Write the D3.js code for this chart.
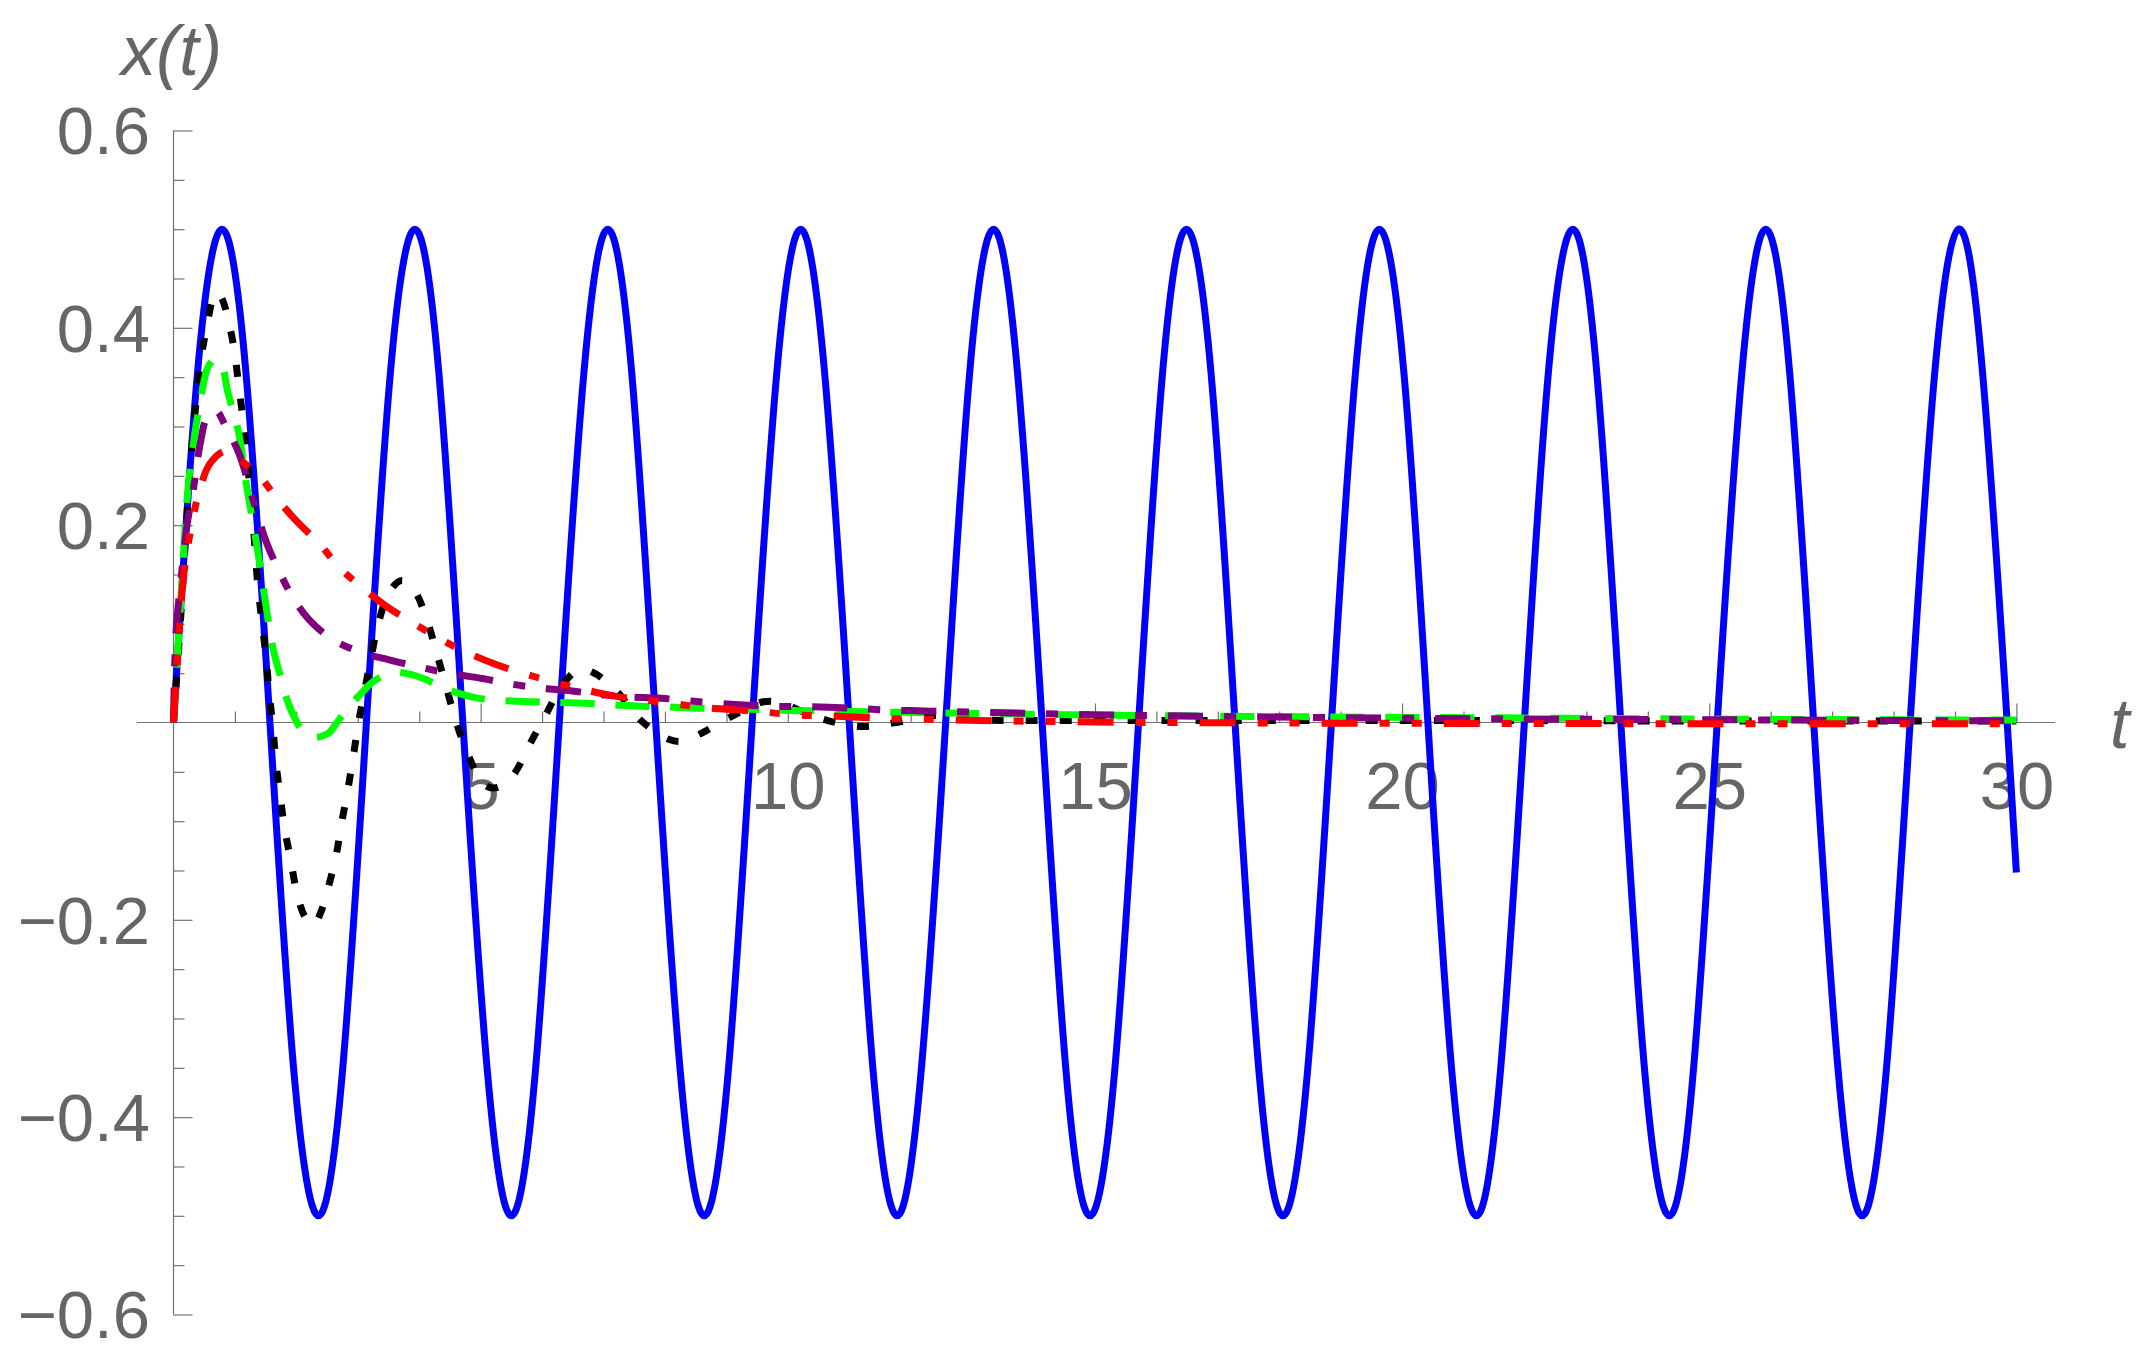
<html>
  <head>
    <script src="https://d3js.org/d3.v7.min.js"></script>
    <style>
      body { margin: 0; background: #fff; }
      .tick-label { font-family: "Liberation Sans", Arial, sans-serif; fill: #666; }
      .axis-title { font-family: "Liberation Sans", Arial, sans-serif; font-style: italic; fill: #666; }
    </style>
  </head>
  <body>
    <svg id="chart" width="2148" height="1364"></svg>
    <script>
      // tick labels
      const xTicks = [5, 10, 15, 20, 25, 30];
      const yTicks = [-0.6, -0.4, -0.2, 0.2, 0.4, 0.6];

      // blue: undamped oscillation, read at eighth-period steps
      const blueT = [0, 0.39, 0.79, 1.18, 1.57, 1.96, 2.36, 2.75, 3.14, 3.53, 3.93, 4.32, 4.71, 5.11, 5.5, 5.89,
        6.28, 6.68, 7.07, 7.46, 7.85, 8.25, 8.64, 9.03, 9.42, 9.82, 10.21, 10.6, 11.0, 11.39, 11.78, 12.17,
        12.57, 12.96, 13.35, 13.74, 14.14, 14.53, 14.92, 15.32, 15.71, 16.1, 16.49, 16.89, 17.28, 17.67, 18.06, 18.46,
        18.85, 19.24, 19.63, 20.03, 20.42, 20.81, 21.21, 21.6, 21.99, 22.38, 22.78, 23.17, 23.56, 23.95, 24.35, 24.74,
        25.13, 25.53, 25.92, 26.31, 26.7, 27.1, 27.49, 27.88, 28.27, 28.67, 29.06, 29.45, 29.85, 30];
      const blueX = [0, 0.354, 0.5, 0.354, 0, -0.354, -0.5, -0.354, 0, 0.354, 0.5, 0.354, 0, -0.354, -0.5, -0.354,
        0, 0.354, 0.5, 0.354, 0, -0.354, -0.5, -0.354, 0, 0.354, 0.5, 0.354, 0, -0.354, -0.5, -0.354,
        0, 0.354, 0.5, 0.354, 0, -0.354, -0.5, -0.354, 0, 0.354, 0.5, 0.354, 0, -0.354, -0.5, -0.354,
        0, 0.354, 0.5, 0.354, 0, -0.354, -0.5, -0.354, 0, 0.354, 0.5, 0.354, 0, -0.354, -0.5, -0.354,
        0, 0.354, 0.5, 0.354, 0, -0.354, -0.5, -0.354, 0, 0.354, 0.5, 0.354, 0, -0.152];

      // black dotted
      const blackT = [0, 0.1, 0.2, 0.27, 0.37, 0.45, 0.54, 0.64, 0.72, 0.8, 0.88, 0.99, 1.06, 1.13, 1.19, 1.29,
        1.38, 1.45, 1.51, 1.56, 1.62, 1.67, 1.74, 1.81, 1.91, 2.02, 2.15, 2.28, 2.4, 2.55, 2.65, 2.73, 2.83, 2.92,
        3.01, 3.11, 3.22, 3.34, 3.53, 3.72, 3.92, 4.13, 4.29, 4.44, 4.6, 4.79, 5.06, 5.25, 5.52, 5.8, 6.07, 6.35,
        6.62, 6.85, 7.21, 7.61, 8.06, 8.3, 8.59, 9.08, 9.6, 9.9, 10.2, 10.65, 11.2, 11.76, 12.33, 13, 15, 18, 21.5, 25, 30];
      const blackX = [0, 0.09, 0.19, 0.257, 0.326, 0.37, 0.4, 0.429, 0.436, 0.428, 0.411, 0.377, 0.342, 0.308, 0.272, 0.206,
        0.134, 0.098, 0.063, 0.029, -0.006, -0.042, -0.076, -0.108, -0.14, -0.176, -0.198, -0.205, -0.192, -0.16, -0.134, -0.104, -0.071, -0.037,
        -0.001, 0.032, 0.067, 0.102, 0.134, 0.144, 0.134, 0.103, 0.069, 0.036, 0.001, -0.032, -0.063, -0.066, -0.054, -0.022, 0.009, 0.04,
        0.054, 0.05, 0.032, 0.002, -0.017, -0.019, -0.011, 0.006, 0.021, 0.02, 0.012, 0.002, -0.004, 0, 0.007, 0.003, 0.002, 0.002, 0.002, 0.0015, 0.0015];

      // green dashed
      const greenT = [0, 0.12, 0.23, 0.34, 0.45, 0.56, 0.67, 0.78, 0.88, 0.97, 1.06, 1.19, 1.35, 1.48, 1.62, 1.75,
        1.86, 1.97, 2.1, 2.3, 2.45, 2.54, 2.65, 2.87, 3.05, 3.24, 3.57, 3.84, 4.09, 4.44, 4.93, 5.3, 5.84, 6.2,
        6.72, 7.08, 7.64, 8.0, 8.53, 9.0, 9.43, 9.82, 10.3, 10.7, 11.2, 11.6, 12.1, 12.5, 13, 15, 18, 21.5, 25, 28, 30];
      const greenX = [0, 0.124, 0.233, 0.29, 0.33, 0.36, 0.368, 0.363, 0.336, 0.315, 0.294, 0.24, 0.182, 0.129, 0.075, 0.045,
        0.021, 0.005, -0.008, -0.015, -0.013, -0.01, -0.001, 0.017, 0.029, 0.041, 0.051, 0.049, 0.044, 0.034, 0.025, 0.0225, 0.021, 0.0205,
        0.0195, 0.018, 0.0165, 0.016, 0.0145, 0.014, 0.0135, 0.0125, 0.012, 0.0115, 0.011, 0.0105, 0.0101, 0.0097, 0.0093, 0.0076, 0.006, 0.0047, 0.0035, 0.0027, 0.0025];

      // purple dot-dashed
      const purpleT = [0, 0.04, 0.13, 0.22, 0.32, 0.43, 0.55, 0.69, 0.85, 1.07, 1.29, 1.51, 1.7, 1.94, 2.21, 2.57,
        3.05, 3.51, 3.95, 4.47, 5.03, 5.5, 5.93, 6.49, 6.84, 7.38, 7.94, 8.56, 9.2, 9.75, 10.3, 10.88, 11.5, 12.34,
        13.1, 15, 18, 21.5, 25, 28, 30];
      const purpleX = [0, 0.09, 0.15, 0.2, 0.235, 0.281, 0.31, 0.316, 0.3, 0.272, 0.227, 0.183, 0.156, 0.127, 0.104, 0.085,
        0.071, 0.0635, 0.057, 0.05, 0.0446, 0.039, 0.035, 0.032, 0.029, 0.026, 0.0246, 0.021, 0.018, 0.0165, 0.016, 0.015, 0.013, 0.0115,
        0.0105, 0.0078, 0.0055, 0.0037, 0.0028, 0.002, 0.0018];

      // red dash-dot-dot
      const redT = [0, 0.02, 0.07, 0.15, 0.25, 0.41, 0.6, 0.85, 1.19, 1.4, 1.67, 2.02, 2.38, 2.7, 3.05, 3.46,
        3.87, 4.33, 4.74, 5.24, 5.68, 6.19, 6.64, 7.16, 7.63, 8.17, 8.6, 9.16, 9.62, 10.16, 10.62, 11.16, 11.6, 12.17,
        12.6, 13.1, 15, 18, 21.5, 25, 30];
      const redX = [0, 0.02, 0.068, 0.14, 0.185, 0.232, 0.263, 0.275, 0.261, 0.25, 0.228, 0.203, 0.181, 0.157, 0.138, 0.118,
        0.102, 0.085, 0.072, 0.059, 0.05, 0.041, 0.034, 0.027, 0.023, 0.019, 0.0153, 0.0128, 0.0105, 0.0075, 0.0068, 0.0054, 0.004, 0.0035,
        0.0027, 0.002, 0.0005, -0.0005, -0.001, -0.0012, -0.0013];

      const svg = d3.select("#chart");
      svg.append("rect").attr("width", 2148).attr("height", 1364).attr("fill", "#fff");

      const x = d3.scaleLinear().domain([0, 30]).range([173.5, 2016.4]);
      const y = d3.scaleLinear().domain([-0.6, 0.6]).range([1314.5, 130.5]);
      const axisColor = "#737373";

      // axis lines
      svg.append("line")
        .attr("x1", x(-0.6)).attr("x2", x(30.63))
        .attr("y1", y(0)).attr("y2", y(0))
        .attr("stroke", axisColor).attr("stroke-width", 1.2);
      svg.append("line")
        .attr("x1", x(0)).attr("x2", x(0))
        .attr("y1", y(-0.6)).attr("y2", y(0.6))
        .attr("stroke", axisColor).attr("stroke-width", 1.2);

      // x ticks point up into the plot
      const tickStyle = (g) => {
        g.select(".domain").remove();
        g.selectAll("line").attr("stroke", axisColor).attr("stroke-width", 1.2);
      };
      svg.append("g")
        .attr("transform", `translate(0,${y(0)})`)
        .call(d3.axisTop(x).tickValues(d3.range(1, 31).filter((d) => d % 5)).tickSize(11).tickFormat(""))
        .call(tickStyle);
      svg.append("g")
        .attr("transform", `translate(0,${y(0)})`)
        .call(d3.axisTop(x).tickValues(xTicks).tickSize(19).tickFormat(""))
        .call(tickStyle);
      const xLab = svg.append("g")
        .attr("transform", `translate(0,${y(0)})`)
        .call(d3.axisBottom(x).tickValues(xTicks).tickSize(0).tickPadding(39));
      xLab.select(".domain").remove();
      xLab.selectAll("text").attr("class", "tick-label").attr("font-size", 67).attr("fill", "#666");

      // y ticks point right
      const yMinor = d3.range(-12, 13).map((d) => d * 0.05).filter((d) => Math.abs(Math.round(d * 20)) % 4 !== 0);
      svg.append("g")
        .attr("transform", `translate(${x(0)},0)`)
        .call(d3.axisRight(y).tickValues(yMinor).tickSize(11).tickFormat(""))
        .call(tickStyle);
      svg.append("g")
        .attr("transform", `translate(${x(0)},0)`)
        .call(d3.axisRight(y).tickValues(yTicks).tickSize(19).tickFormat(""))
        .call(tickStyle);
      const yLab = svg.append("g")
        .attr("transform", `translate(${x(0)},0)`)
        .call(d3.axisLeft(y).tickValues(yTicks).tickSize(0).tickPadding(23.5)
          .tickFormat((d) => (d < 0 ? "\u2212" : "") + Math.abs(d).toFixed(1)));
      yLab.select(".domain").remove();
      yLab.selectAll("text").attr("class", "tick-label").attr("font-size", 67).attr("fill", "#666").attr("dy", "0.35em");

      // axis titles
      svg.append("text").attr("class", "axis-title")
        .attr("x", 121).attr("y", 75).attr("font-size", 70).text("x(t)");
      svg.append("text").attr("class", "axis-title")
        .attr("x", 2110).attr("y", 748).attr("font-size", 70).text("t");

      // curves
      const series = [
        { t: blueT, v: blueX, color: "#0000ff", dash: null, curve: d3.curveNatural },
        { t: blackT, v: blackX, color: "#000000", dash: "12,22", curve: d3.curveCatmullRom },
        { t: greenT, v: greenX, color: "#00ff00", dash: "34,21", curve: d3.curveCatmullRom },
        { t: purpleT, v: purpleX, color: "#800080", dash: "35,21,12,21", curve: d3.curveCatmullRom },
        { t: redT, v: redX, color: "#ff0000", dash: "36,22,10,22,10,22", curve: d3.curveCatmullRom },
      ];

      series.forEach((s) => {
        const pts = s.t.map((t, i) => [t, s.v[i]]);
        const line = d3.line()
          .x((d) => x(d[0]))
          .y((d) => y(d[1]))
          .curve(s.curve);
        svg.append("path")
          .datum(pts)
          .attr("d", line)
          .attr("fill", "none")
          .attr("stroke", s.color)
          .attr("stroke-width", 7)
          .attr("stroke-linecap", "butt")
          .attr("stroke-linejoin", "round")
          .attr("stroke-dasharray", s.dash);
      });
    </script>
  </body>
</html>
